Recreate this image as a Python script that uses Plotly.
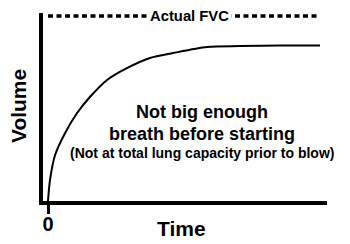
import plotly.graph_objects as go

# Data
time = [0, 0.074, 0.26, 0.63, 1.07, 1.54, 2.17, 2.90, 3.75, 4.60, 5.85, 7.06, 8.53, 10.0]
volume = [0, 0.112, 0.245, 0.362, 0.468, 0.553, 0.644, 0.707, 0.761, 0.787, 0.819, 0.824, 0.827, 0.827]
fvc_level = 0.984
fvc_span = [0.0, 9.89]
tick_vals = [0]
tick_text = ["0"]

FONT = "Liberation Sans, Arial, sans-serif"

fig = go.Figure()
fig.add_trace(go.Scatter(x=fvc_span, y=[fvc_level, fvc_level], mode="lines",
                         line=dict(color="black", width=3.5, dash="5px,3.5px"),
                         hoverinfo="skip", showlegend=False))
fig.add_trace(go.Scatter(x=time, y=volume, mode="lines",
                         line=dict(color="black", width=2, shape="spline", smoothing=0.8),
                         showlegend=False, cliponaxis=True))


def txt(x, y, s, size, ref="data", angle=0, **kw):
    d = dict(x=x, y=y, text=s, showarrow=False, xanchor="center", yanchor="middle",
             textangle=angle, font=dict(family=FONT, size=size, color="black", weight=700))
    if ref == "data":
        d.update(xref="x", yref="y")
    else:
        d.update(xref="paper", yref="paper")
    d.update(kw)
    return d


ann = [
    txt(5.22, fvc_level, "Actual FVC", 14.8, bgcolor="white", borderpad=2),
    txt(5.66, 0.471, "Not big enough", 18),
    txt(5.66, 0.359, "breath before starting", 18),
    txt(5.66, 0.255, "(Not at total lung capacity prior to blow)", 14),
    txt(0.489, -0.144, "Time", 21, ref="paper"),
    txt(-0.088, 0.505, "Volume", 21, ref="paper", angle=-90),
]

fig.update_layout(
    template="none",
    width=350, height=244,
    margin=dict(l=43, r=23, t=13, b=43),
    paper_bgcolor="white", plot_bgcolor="white",
    annotations=ann,
    xaxis=dict(range=[-0.184, 10.257], showgrid=False, zeroline=False, automargin=False,
               showline=True, linecolor="black", linewidth=4,
               tickmode="array", tickvals=tick_vals, ticktext=tick_text,
               ticks="outside", ticklen=9, tickwidth=3, tickcolor="black",
               ticklabelstandoff=-7,
               tickfont=dict(family=FONT, size=20, color="black", weight=700)),
    yaxis=dict(range=[0, 1], showgrid=False, zeroline=False, automargin=False,
               showline=True, linecolor="black", linewidth=4,
               showticklabels=False, ticks=""),
)

fig.write_html("out.html")
